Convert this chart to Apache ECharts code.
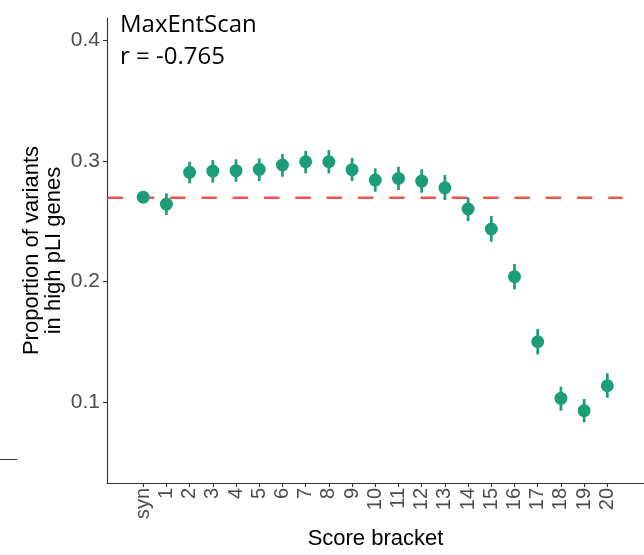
<!DOCTYPE html>
<html>
<head>
<meta charset="utf-8">
<script src="https://cdn.jsdelivr.net/npm/echarts@6/dist/echarts.min.js"></script>
<style>
html,body{margin:0;padding:0;background:#fff;}
#c{width:644px;height:555px;}
</style>
</head>
<body>
<div id="c"></div>
<script>
const categories = ['syn','1','2','3','4','5','6','7','8','9','10','11','12','13','14','15','16','17','18','19','20'];
const proportion = [0.2700,0.2643,0.2906,0.2917,0.2920,0.2931,0.2967,0.2994,0.2994,0.2928,0.2842,0.2856,0.2834,0.2778,0.2602,0.2436,0.2040,0.1500,0.1031,0.0928,0.1135];
const lowerCI =    [0.2690,0.2552,0.2815,0.2820,0.2828,0.2834,0.2870,0.2898,0.2898,0.2834,0.2745,0.2759,0.2737,0.2676,0.2502,0.2330,0.1935,0.1396,0.0928,0.0832,0.1036];
const upperCI =    [0.2710,0.2732,0.2994,0.3008,0.3014,0.3022,0.3058,0.3085,0.3091,0.3025,0.2939,0.2953,0.2931,0.2884,0.2699,0.2544,0.2145,0.1606,0.1127,0.1025,0.1238];
const baselineValue = 0.2695;
const yTicks = [0.1, 0.2, 0.3, 0.4];
const titleText = 'MaxEntScan';
const corrText = 'r = -0.765';
const xTitle = 'Score bracket';
const yTitle = 'Proportion of variants\nin high pLI genes';

const green = '#1B9E77';
const X_MIN = -1.56, X_MAX = 21.58;
const Y_MIN = 0.0328, Y_MAX = 0.4187;
const catIdx = categories.map((c, i) => i);

const chart = echarts.init(document.getElementById('c'), null, {renderer: 'canvas'});
chart.setOption({
  animation: false,
  backgroundColor: '#ffffff',
  grid: {left: 107, right: 0, top: 18, bottom: 72, containLabel: false},
  xAxis: {
    type: 'value', min: X_MIN, max: X_MAX,
    name: xTitle, nameLocation: 'middle', nameGap: 45, nameMoveOverlap: false,
    nameTextStyle: {fontFamily: 'Liberation Sans', fontSize: 22, color: '#000'},
    axisLine: {show: true, onZero: false, lineStyle: {color: '#333', width: 1.1}},
    axisTick: {show: true, customValues: catIdx, length: 4, lineStyle: {color: '#333', width: 1.1}},
    axisLabel: {customValues: catIdx, rotate: 90, margin: 5, fontFamily: 'Liberation Sans', fontSize: 20, color: '#4D4D4D',
      formatter: v => categories[Math.round(v)]},
    splitLine: {show: false}
  },
  yAxis: {
    type: 'value', min: Y_MIN, max: Y_MAX,
    name: yTitle, nameLocation: 'middle', nameGap: 42, nameRotate: 90, nameMoveOverlap: false,
    nameTextStyle: {fontFamily: 'Liberation Sans', fontSize: 22, color: '#000', lineHeight: 22, align: 'center'},
    axisLine: {show: true, onZero: false, lineStyle: {color: '#333', width: 1.1}},
    axisTick: {show: true, customValues: yTicks, length: 4, lineStyle: {color: '#333', width: 1.1}},
    axisLabel: {customValues: yTicks, margin: 7, fontFamily: 'Liberation Sans', fontSize: 21, color: '#4D4D4D',
      formatter: v => v.toFixed(1)},
    splitLine: {show: false}
  },
  series: [
    {
      type: 'line', z: 1, symbol: 'none', silent: true,
      data: [[X_MIN + 0.02, baselineValue], [20.66, baselineValue]],
      lineStyle: {color: '#F0544A', width: 2.6, type: [15.5, 15.8]}
    },
    {
      type: 'custom', z: 2,
      data: catIdx.map(i => [i, lowerCI[i], upperCI[i]]),
      renderItem: function (params, api) {
        const lo = api.coord([api.value(0), api.value(1)]);
        const hi = api.coord([api.value(0), api.value(2)]);
        return {type: 'line', shape: {x1: lo[0], y1: lo[1], x2: hi[0], y2: hi[1]},
          style: {stroke: green, lineWidth: 2.7}};
      }
    },
    {
      type: 'scatter', z: 3, symbol: 'circle', symbolSize: 13,
      data: catIdx.map(i => [i, proportion[i]]),
      itemStyle: {color: green, opacity: 1}
    }
  ],
  graphic: [
    {type: 'text', left: 120, top: 13, style: {text: titleText, font: '24px "Open Sans"', fill: '#000'}},
    {type: 'text', left: 120, top: 45, style: {text: corrText, font: '24px "Open Sans"', fill: '#000'}},
    {type: 'line', shape: {x1: 0, y1: 459.5, x2: 17, y2: 459.5}, style: {stroke: '#333', lineWidth: 1}}
  ]
});
</script>
</body>
</html>
